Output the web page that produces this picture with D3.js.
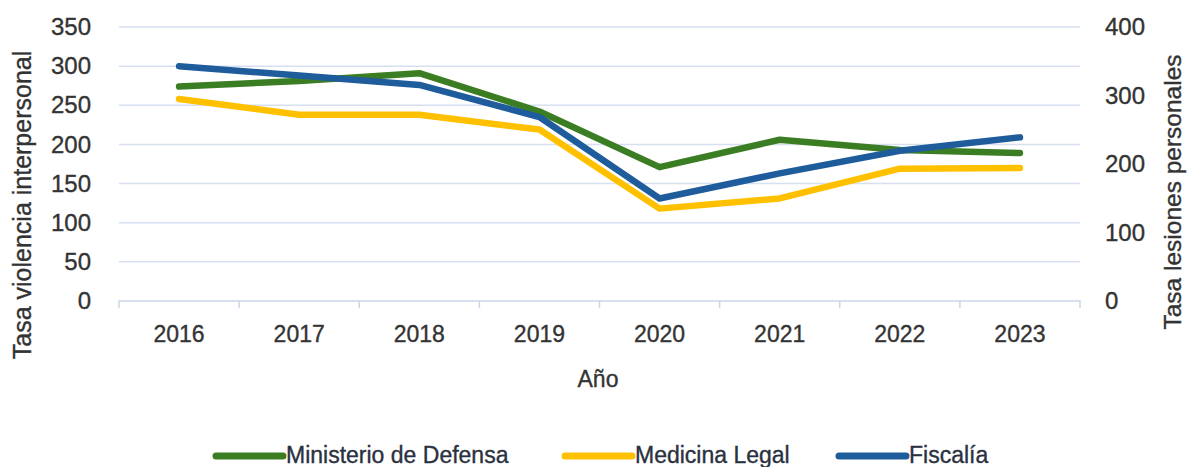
<!DOCTYPE html>
<html><head><meta charset="utf-8">
<script src="https://cdn.jsdelivr.net/npm/d3@7"></script>
<style>
body{margin:0;background:#fff;}
text{fill:#333;stroke:#333;stroke-width:0.35px;}
</style></head>
<body><svg id="c" width="1188" height="467"></svg>
<script>
const years = ["2016","2017","2018","2019","2020","2021","2022","2023"];
const ministerio = [274, 281, 291, 242, 171, 206, 193, 189];
const medicina = [258, 238, 238, 219, 118, 131, 169, 170];
const fiscalia = [300, 288, 276, 235, 131, 163, 192, 209];
const leftTicks = [0,50,100,150,200,250,300,350];
const rightTicks = [0,100,200,300,400];
const seriesNames = ["Ministerio de Defensa","Medicina Legal","Fiscalía"];
const colors = ["#3b7d23","#ffc000","#1f5c9c"];

const FONT = "'Liberation Sans',Arial,sans-serif";
const svg = d3.select("#c");
const x0 = 119, x1 = 1080, yTop = 27, yBot = 301;
const x = d3.scaleBand().domain(years).range([x0, x1]);
const yL = d3.scaleLinear().domain([0,350]).range([yBot, yTop]);
const yR = d3.scaleLinear().domain([0,400]).range([yBot, yTop]);

// gridlines
svg.append("g").selectAll("line").data(leftTicks.filter(d=>d>0)).join("line")
  .attr("x1", x0).attr("x2", x1).attr("y1", d=>yL(d)).attr("y2", d=>yL(d))
  .attr("stroke", "#d6e0f0").attr("stroke-width", 1.5);

// x axis
const xa = svg.append("g").attr("transform", `translate(0,${yBot})`)
  .call(d3.axisBottom(x).tickSize(0).tickPadding(25));
xa.select(".domain").attr("stroke", "#c9d6ea").attr("stroke-width", 1.5)
  .attr("d", `M${x0},7V0H${x1}V7`);
xa.selectAll("text").attr("font-family",FONT).attr("font-size", 23);
svg.append("g").selectAll("line").data(years.slice(1)).join("line")
  .attr("x1", d=>x(d)).attr("x2", d=>x(d)).attr("y1", yBot).attr("y2", yBot+7)
  .attr("stroke", "#c9d6ea").attr("stroke-width", 1.5);

// left axis
const la = svg.append("g").attr("transform", `translate(${x0},0)`)
  .call(d3.axisLeft(yL).tickValues(leftTicks).tickSize(0).tickPadding(28));
la.select(".domain").remove();
la.selectAll("text").attr("font-family",FONT).attr("font-size",24);

// right axis
const ra = svg.append("g").attr("transform", `translate(${x1},0)`)
  .call(d3.axisRight(yR).tickValues(rightTicks).tickSize(0).tickPadding(25));
ra.select(".domain").remove();
ra.selectAll("text").attr("font-family",FONT).attr("font-size",24);

// axis titles
svg.append("text").attr("transform","translate(31,205) rotate(-90)").attr("text-anchor","middle")
  .attr("font-family",FONT).attr("font-size",25).text("Tasa violencia interpersonal");
svg.append("text").attr("transform","translate(1181,192) rotate(-90)").attr("text-anchor","middle")
  .attr("font-family",FONT).attr("font-size",24.5).text("Tasa lesiones personales");
svg.append("text").attr("x",598).attr("y",387).attr("text-anchor","middle")
  .attr("font-family",FONT).attr("font-size",23).text("Año");

// lines
const data = [ministerio, medicina, fiscalia];
const line = d3.line().x((d,i)=>x(years[i])+x.bandwidth()/2).y(d=>yL(d));
data.forEach((s,k)=>{
  svg.append("path").datum(s).attr("d", line).attr("fill","none")
    .attr("stroke", colors[k]).attr("stroke-width", 6.5).attr("stroke-linecap","round").attr("stroke-linejoin","round");
});

// legend
const legX = [216, 565, 839];
seriesNames.forEach((n,k)=>{
  const g = svg.append("g").attr("transform", `translate(${legX[k]},456)`);
  g.append("line").attr("x1",0).attr("x2",67).attr("y1",0).attr("y2",0)
    .attr("stroke", colors[k]).attr("stroke-width",7).attr("stroke-linecap","round");
  g.append("text").attr("x",70).attr("y",7).attr("font-family",FONT)
    .attr("font-size",23).style("fill","#2a3140").style("stroke","#2a3140").text(n);
});
</script></body></html>
